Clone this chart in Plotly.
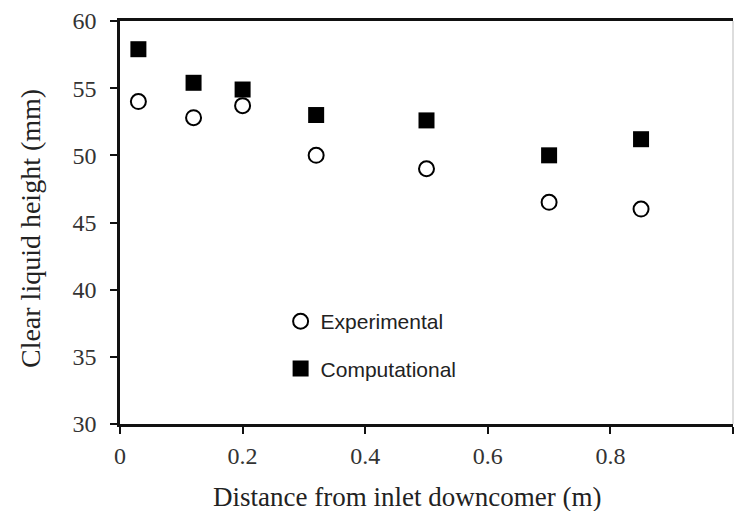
import plotly.graph_objects as go

distance = [0.03, 0.12, 0.20, 0.32, 0.50, 0.70, 0.85]
experimental = [54.0, 52.8, 53.7, 50.0, 49.0, 46.5, 46.0]
computational = [57.9, 55.4, 54.9, 53.0, 52.6, 50.0, 51.2]

x_ticks = [0, 0.2, 0.4, 0.6, 0.8, 1]
x_tick_labels = ["0", "0.2", "0.4", "0.6", "0.8", "1"]
y_ticks = [30, 35, 40, 45, 50, 55, 60]

x_title = "Distance from inlet downcomer (m)"
y_title = "Clear liquid height (mm)"

fig = go.Figure()
fig.add_trace(go.Scatter(
    x=distance, y=experimental, mode="markers", name="Experimental",
    legendgroup="a",
    marker=dict(symbol="circle-open", size=15, color="black", line=dict(width=2, color="black")),
))
fig.add_trace(go.Scatter(
    x=distance, y=computational, mode="markers", name="Computational",
    legendgroup="b",
    marker=dict(symbol="square", size=16, color="black"),
))

serif = "Liberation Serif, Times New Roman, serif"

fig.update_layout(
    width=734, height=511,
    margin=dict(l=120, r=1, t=21, b=87),
    paper_bgcolor="white", plot_bgcolor="white",
    showlegend=True,
    legend=dict(
        x=0.262, y=0.305, xanchor="left", yanchor="top",
        font=dict(family="Liberation Sans, Arial, sans-serif", size=21, color="#222"),
        bgcolor="rgba(0,0,0,0)", traceorder="grouped", tracegroupgap=17,
        itemwidth=30,
    ),
    xaxis=dict(
        range=[0, 1], tickvals=x_ticks, ticktext=x_tick_labels,
        showgrid=False, zeroline=False,
        showline=True, linecolor="#111", linewidth=2.5, mirror=True,
        ticks="outside", ticklen=7, tickwidth=2, tickcolor="#111",
        ticklabelstandoff=1,
        tickfont=dict(family=serif, size=24, color="#333"),
    ),
    yaxis=dict(
        range=[30, 60], tickvals=y_ticks,
        showgrid=False, zeroline=False,
        showline=True, linecolor="#111", linewidth=2.5,
        ticks="outside", ticklen=7, tickwidth=2, tickcolor="#111",
        ticklabelstandoff=9,
        tickfont=dict(family=serif, size=24, color="#333"),
    ),
    shapes=[dict(type="line", xref="paper", yref="paper", x0=1, x1=1, y0=0, y1=1,
                 line=dict(color="#bbb", width=1))],
    annotations=[
        dict(text=x_title, xref="paper", yref="paper", x=0.468, y=-0.181,
             xanchor="center", yanchor="middle", showarrow=False,
             font=dict(family=serif, size=27, color="#222")),
        dict(text=y_title, xref="paper", yref="paper", x=-0.147, y=0.486,
             xanchor="center", yanchor="middle", showarrow=False, textangle=-90,
             font=dict(family=serif, size=28, color="#222")),
    ],
)

fig.write_html("out.html")
